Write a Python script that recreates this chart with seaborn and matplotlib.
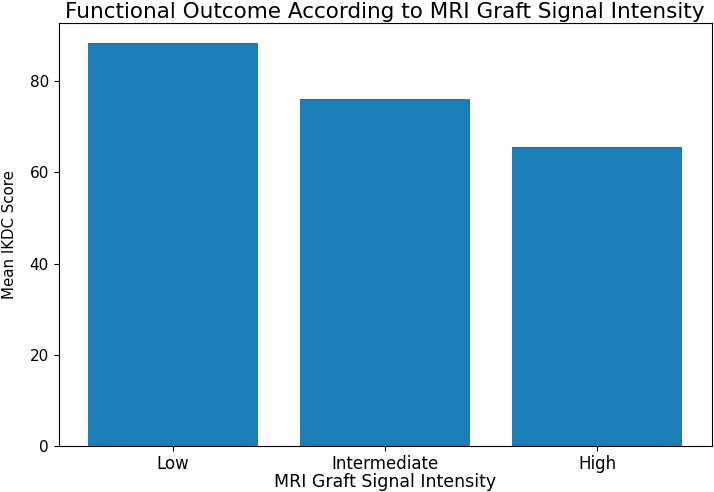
import matplotlib
matplotlib.use('Agg')
import matplotlib.pyplot as plt
import pandas as pd
import seaborn as sns

categories = ['Low', 'Intermediate', 'High']
mean_ikdc = [88.3, 76.1, 65.6]

df = pd.DataFrame({'MRI Graft Signal Intensity': categories, 'Mean IKDC Score': mean_ikdc})

fig = plt.figure(figsize=(7.14, 4.92), dpi=100)
ax = fig.add_axes([0.082, 0.0935, 0.915, 0.859])
sns.barplot(data=df, x='MRI Graft Signal Intensity', y='Mean IKDC Score', color='#1b7eb9',
            saturation=1, width=0.8, ax=ax)
ax.set_xlim(-0.54, 2.54)
ax.set_ylim(0, max(mean_ikdc) * 1.05)
ax.tick_params(axis='x', labelsize=12, pad=3)
ax.tick_params(axis='y', labelsize=11)
ax.set_xlabel('MRI Graft Signal Intensity', fontsize=12.5, labelpad=0)
ax.set_ylabel('Mean IKDC Score', fontsize=10.8)
ax.yaxis.set_label_coords(-0.0635, 0.5)
ax.set_title('Functional Outcome According to MRI Graft Signal Intensity', fontsize=15.5, pad=4)
fig.savefig('out.png', dpi=100)
